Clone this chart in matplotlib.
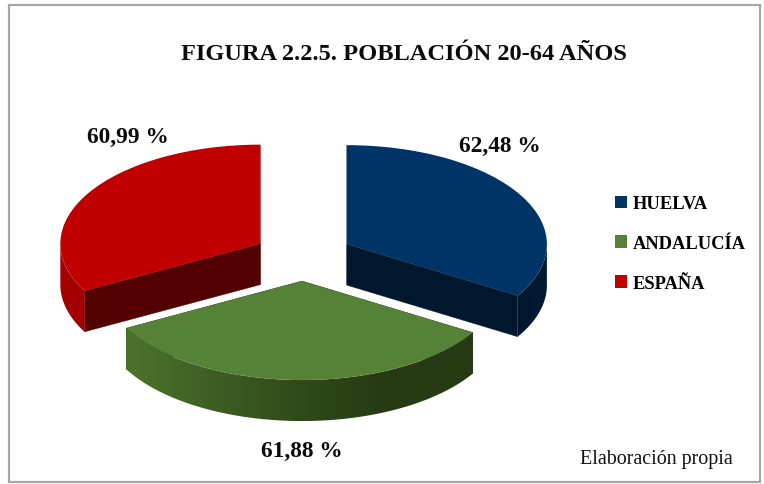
import numpy as np
import matplotlib
matplotlib.use("Agg")
import matplotlib.pyplot as plt
from matplotlib.patches import Polygon, Rectangle
from matplotlib.colors import LinearSegmentedColormap

W, H = 764, 485
TITLE = "FIGURA 2.2.5. POBLACIÓN 20-64 AÑOS"
CATEGORIES = ["HUELVA", "ANDALUCÍA", "ESPAÑA"]
VALUES = [62.48, 61.88, 60.99]
SOURCE = "Elaboración propia"

TOP = ["#003366", "#558236", "#C00000"]
WALL = ["#00172E", "#263A13", "#520000"]
RIM = [["#00172E", "#001A33"],
       ["#4C732A", "#3E5F23", "#2F4A1A", "#263A13", "#263A13"],
       ["#A80000", "#A00000"]]
SERIF = "Liberation Serif"

CX, CY, RX, RY, DEPTH = 303.3, 257.3, 200.0, 99.0, 41.0

fig = plt.figure(figsize=(W / 100, H / 100), dpi=100, facecolor="white")
ax = fig.add_axes([0, 0, 1, 1])
wedges, _ = ax.pie(VALUES, startangle=90, counterclock=False, radius=1,
                   explode=[0.25, 0.25, 0.25], colors=TOP,
                   wedgeprops=dict(linewidth=0))
ax.set_aspect("auto")
xlim = ((0 - CX) / RX, (W - CX) / RX)
ylim = ((CY - H) / RY, CY / RY)
ax.set_xlim(xlim)
ax.set_ylim(ylim)
ax.axis("off")
dz = DEPTH / RY


def extrude(w, i, order):
    cx, cy = w.center
    r = w.r
    t = np.radians(np.linspace(w.theta1, w.theta2, 1500))
    arc = np.column_stack([cx + r * np.cos(t), cy + r * np.sin(t)])
    apex = np.array([cx, cy])
    # cut walls, drawn first
    for end in (arc[0], arc[-1]):
        q = np.array([apex, end, end - [0, dz], apex - [0, dz]])
        ax.add_patch(Polygon(q, closed=True, fc=WALL[i], ec=WALL[i], lw=0.3, zorder=order))
    # outer rim: only the front (lower) part of the arc is visible
    front = arc[np.sin(t) <= 0]
    low = front - [0, dz]
    rim = Polygon(np.vstack([front, low[::-1]]), closed=True, transform=ax.transData)
    cmap = LinearSegmentedColormap.from_list("rim", RIM[i])
    x0, x1 = low[:, 0].min(), low[:, 0].max()
    y0, y1 = low[:, 1].min(), front[:, 1].max()
    im = ax.imshow(np.linspace(0, 1, 256)[None, :], cmap=cmap, aspect="auto",
                   extent=(x0, x1, y0, y1), zorder=order + 0.1, origin="lower",
                   interpolation="bilinear")
    im.set_clip_path(rim)
    w.set_zorder(order + 0.2)


for i, w in enumerate(wedges):
    extrude(w, i, 2 + i)
ax.set_xlim(xlim)
ax.set_ylim(ylim)


def fx(x):
    return x / W


def fy(y):
    return 1 - y / H


# chart frame
fig.add_artist(Rectangle((fx(9), fy(483)), fx(751), 477 / H, transform=fig.transFigure,
                         fc="none", ec="#A6A6A6", lw=1.6))

fig.text(fx(403.5), fy(55), TITLE, family=SERIF, weight="bold", fontsize=17.6,
         ha="center", va="center", color="#0a0a0a")

label_pos = [(499.5, 146), (302, 451), (128, 137)]
for v, (x, y) in zip(VALUES, label_pos):
    fig.text(fx(x), fy(y), f"{v:.2f} %".replace(".", ","), family=SERIF, weight="bold",
             fontsize=16.8, ha="center", va="center", color="#0a0a0a")

# legend
leg = fig.legend(wedges, CATEGORIES, loc="upper left",
                 bbox_to_anchor=(fx(606), fy(187)), frameon=False,
                 prop=dict(family=SERIF, weight="bold", size=13.3),
                 handlelength=0.65, handleheight=0.65, handletextpad=0.3,
                 labelspacing=1.24, borderpad=0.5, borderaxespad=0)

fig.text(fx(656.5), fy(460), SOURCE, family=SERIF, fontsize=14.4,
         ha="center", va="center", color="#111111")

fig.savefig("out.png", dpi=100)
